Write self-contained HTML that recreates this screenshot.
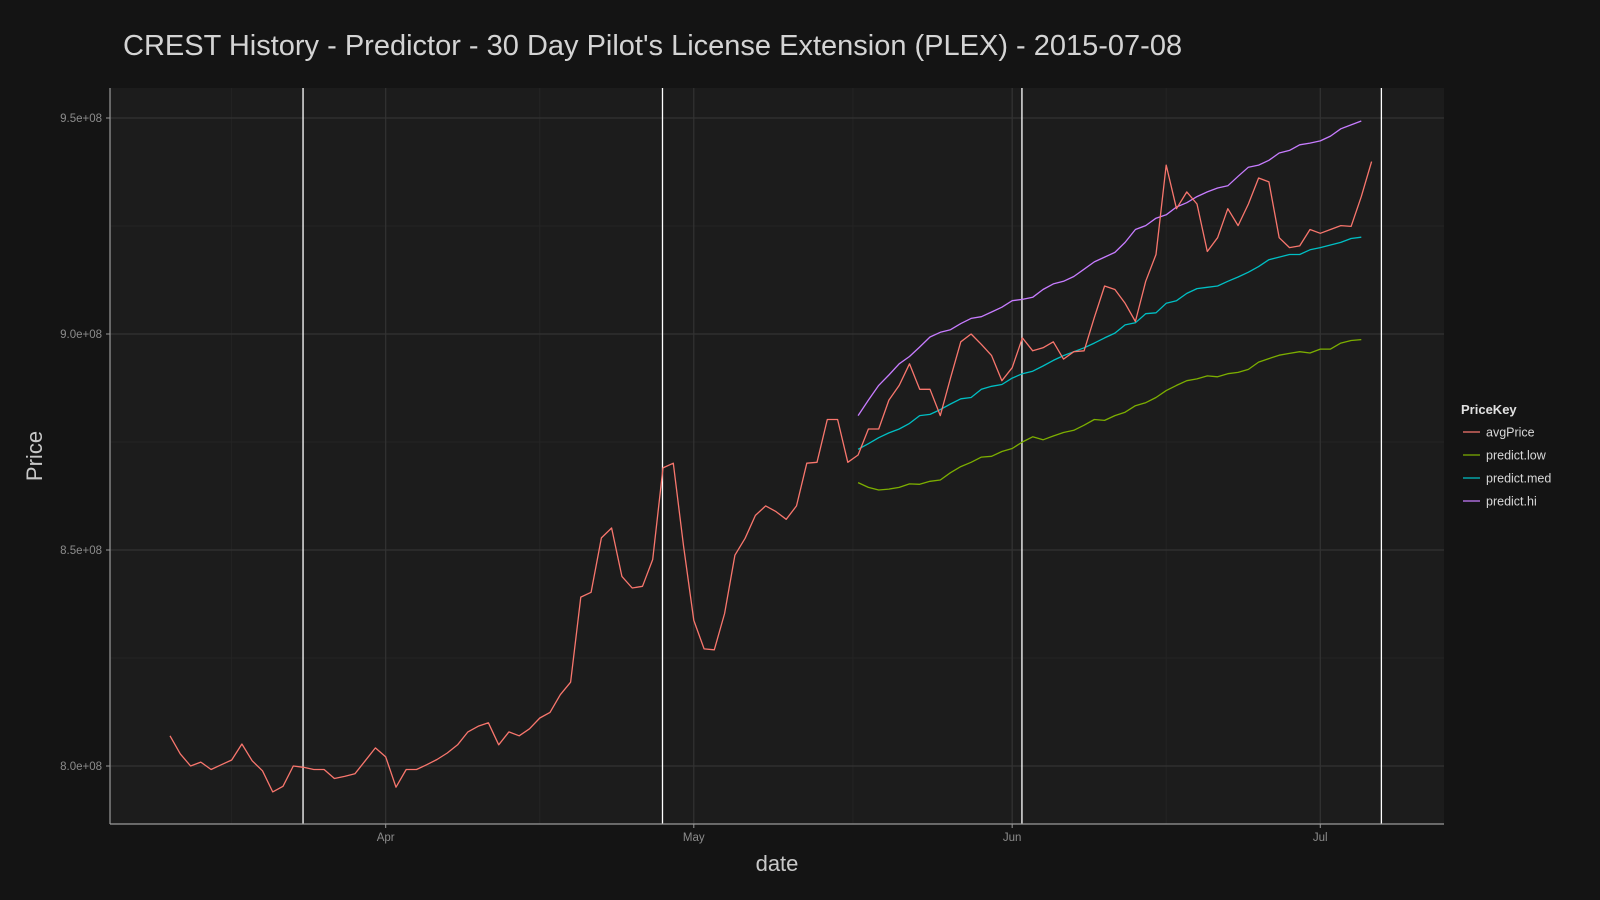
<!DOCTYPE html>
<html><head><meta charset="utf-8"><style>
html,body{margin:0;padding:0;background:#141414;}
svg{display:block;font-family:"Liberation Sans",sans-serif;}
</style></head><body>
<svg id="chart" width="1600" height="900" viewBox="0 0 1600 900">
<rect x="0" y="0" width="1600" height="900" fill="#141414"/>
<text x="123" y="55" font-size="29" fill="#d4d4d4">CREST History - Predictor - 30 Day Pilot's License Extension (PLEX) - 2015-07-08</text>
<rect x="110" y="88" width="1334" height="736" fill="#1c1c1c"/>
<g id="grid"></g>
<g id="vlines"></g>
<g id="series"></g>
<line x1="110" y1="88" x2="110" y2="824" stroke="#9a9a9a" stroke-width="1.2"/>
<line x1="110" y1="824" x2="1444" y2="824" stroke="#9a9a9a" stroke-width="1.2"/>
<g id="axes"></g>
<text transform="translate(42,456) rotate(-90)" text-anchor="middle" font-size="22" fill="#c8c8c8">Price</text>
<text x="777" y="871" text-anchor="middle" font-size="22" fill="#c8c8c8">date</text>
<g id="legend">
<text x="1461" y="414" font-size="13" font-weight="bold" fill="#e0e0e0">PriceKey</text>
</g>
</svg>
<script>
const seriesNames = ["avgPrice","predict.low","predict.med","predict.hi"];
const seriesColors = ["#f8766d","#7cae00","#00bfc4","#c77cff"];
const yTicks = [800,850,900,950];
const yTickLabels = ["8.0e+08","8.5e+08","9.0e+08","9.5e+08"];
const xTickDays = [21,51,82,112];
const xTickLabels = ["Apr","May","Jun","Jul"];
const markerDays = [13,48,83,118];
// day 0 = 2015-03-11, values in millions
const avgPrice = [807.0,802.8,800,800.9,799.2,800.3,801.4,805.1,801.2,798.9,794,795.3,800,799.7,799.2,799.2,797.1,797.6,798.2,801.2,804.2,802.1,795.1,799.2,799.2,800.3,801.5,803,804.9,807.9,809.2,810,804.9,807.9,807,808.6,811.1,812.4,816.5,819.4,839.1,840.2,852.8,855.1,843.9,841.2,841.6,847.8,869,870.1,851,833.7,827.1,826.9,835.3,848.8,852.7,858,860.2,858.9,857.1,860.2,870.1,870.3,880.2,880.2,870.3,872,878,878,884.7,888.1,893.1,887.2,887.2,881.1,889.8,898.2,900,897.6,895,889.2,892.2,899.1,896.1,896.8,898.2,894.2,895.9,896.1,903.8,911.1,910.3,907.1,902.9,912.2,918.4,939.1,929,932.9,930.1,919.1,922.3,929,925.1,930.1,936.1,935.2,922.3,920,920.4,924.2,923.3,924.2,925.1,924.9,931.8,939.9];
const predictStart = 67;
const predictLow = [865.6,864.5,863.9,864.1,864.5,865.3,865.2,865.9,866.2,867.9,869.3,870.3,871.5,871.7,872.8,873.5,875,876.2,875.5,876.4,877.2,877.7,878.9,880.2,880,881.1,881.9,883.4,884.1,885.3,886.9,888.1,889.2,889.6,890.3,890.1,890.8,891.1,891.8,893.5,894.3,895.1,895.5,895.9,895.6,896.5,896.5,897.9,898.5,898.7];
const predictMed = [873.3,874.6,876,877.1,878,879.3,881.1,881.4,882.5,883.8,885,885.3,887.2,887.9,888.3,889.8,890.8,891.4,892.6,893.9,895,895.9,896.8,897.9,899.1,900.2,902.1,902.6,904.7,904.9,907.1,907.7,909.4,910.5,910.8,911.1,912.2,913.2,914.3,915.6,917.2,917.8,918.4,918.4,919.5,920,920.6,921.2,922.1,922.4];
const predictHi = [881.1,884.7,888.1,890.5,893.1,894.8,897,899.3,900.4,901,902.4,903.6,904,905.1,906.2,907.7,908,908.5,910.3,911.6,912.2,913.3,915,916.7,917.8,918.9,921.2,924.2,925.1,926.8,927.6,929.4,930.4,931.8,932.9,933.8,934.3,936.5,938.6,939.1,940.2,941.9,942.5,943.8,944.2,944.7,945.8,947.5,948.4,949.3];

const NS="http://www.w3.org/2000/svg";
const X0=110,X1=1444,Y0=88,Y1=824;
function xs(d){return 385.7+(d-21)*10.27;}
function ys(v){return 766-(v-800)/50*216;}
function mk(tag,attrs,parent){const e=document.createElementNS(NS,tag);for(const k in attrs)e.setAttribute(k,attrs[k]);parent.appendChild(e);return e;}
const grid=document.getElementById('grid'),axes=document.getElementById('axes'),vl=document.getElementById('vlines'),ser=document.getElementById('series'),leg=document.getElementById('legend');
// minor gridlines
for(let i=0;i<yTicks.length+1;i++){const v=775+i*50;const y=ys(v);if(y<Y0||y>Y1)continue;
 const l=mk('line',{x1:X0,x2:X1,y1:y,y2:y,stroke:'#242424','stroke-width':1},grid);
 
 }
const minorX=[6,36,66.5,97,127];
minorX.forEach(d=>{const x=xs(d);if(x<X0||x>X1)return;
 const l=mk('line',{x1:x,x2:x,y1:Y0,y2:Y1,stroke:'#242424','stroke-width':1},grid);
 
 });
yTicks.forEach((v,i)=>{const y=ys(v);
 const l=mk('line',{x1:X0,x2:X1,y1:y,y2:y,stroke:'#333333','stroke-width':1.2},grid);
 
 
 const t=mk('line',{x1:X0-4,x2:X0,y1:y,y2:y,stroke:'#9a9a9a','stroke-width':1},axes);
 
 
 const tx=mk('text',{x:X0-8,y:y+4,'text-anchor':'end','font-size':11.5,fill:'#8c8c8c'},axes);
 tx.textContent=yTickLabels[i];
 
 });
xTickDays.forEach((d,i)=>{const x=xs(d);
 const l=mk('line',{x1:x,x2:x,y1:Y0,y2:Y1,stroke:'#333333','stroke-width':1.2},grid);
 
 
 const t=mk('line',{x1:x,x2:x,y1:Y1,y2:Y1+4,stroke:'#9a9a9a','stroke-width':1},axes);
 
 
 const tx=mk('text',{x:x,y:Y1+17,'text-anchor':'middle','font-size':11.5,fill:'#8c8c8c'},axes);
 tx.textContent=xTickLabels[i];
 
 });
markerDays.forEach(d=>{const x=xs(d)-0.5;
 const l=mk('line',{x1:x,x2:x,y1:Y0,y2:Y1,stroke:'#ffffff','stroke-width':1.3},vl);
 
 });
function drawSeries(arr,start,color,name){
 const pts=arr.map((v,i)=>xs(start+i).toFixed(1)+','+ys(v).toFixed(1)).join(' ');
 const p=mk('polyline',{points:pts,fill:'none',stroke:color,'stroke-width':1.3,'stroke-linejoin':'round'},ser);
 
 }
drawSeries(predictLow,predictStart,seriesColors[1],'predict-low');
drawSeries(predictMed,predictStart,seriesColors[2],'predict-med');
drawSeries(predictHi,predictStart,seriesColors[3],'predict-hi');
drawSeries(avgPrice,0,seriesColors[0],'avg-price');
seriesNames.forEach((n,i)=>{const y=432+i*23;
 const l=mk('line',{x1:1463,x2:1480,y1:y,y2:y,stroke:seriesColors[i],'stroke-width':1.3},leg);
 
 
 const t=mk('text',{x:1486,y:y+4.5,'font-size':12.5,fill:'#d8d8d8'},leg);
 t.textContent=n;
 
 });
</script>
</body></html>
